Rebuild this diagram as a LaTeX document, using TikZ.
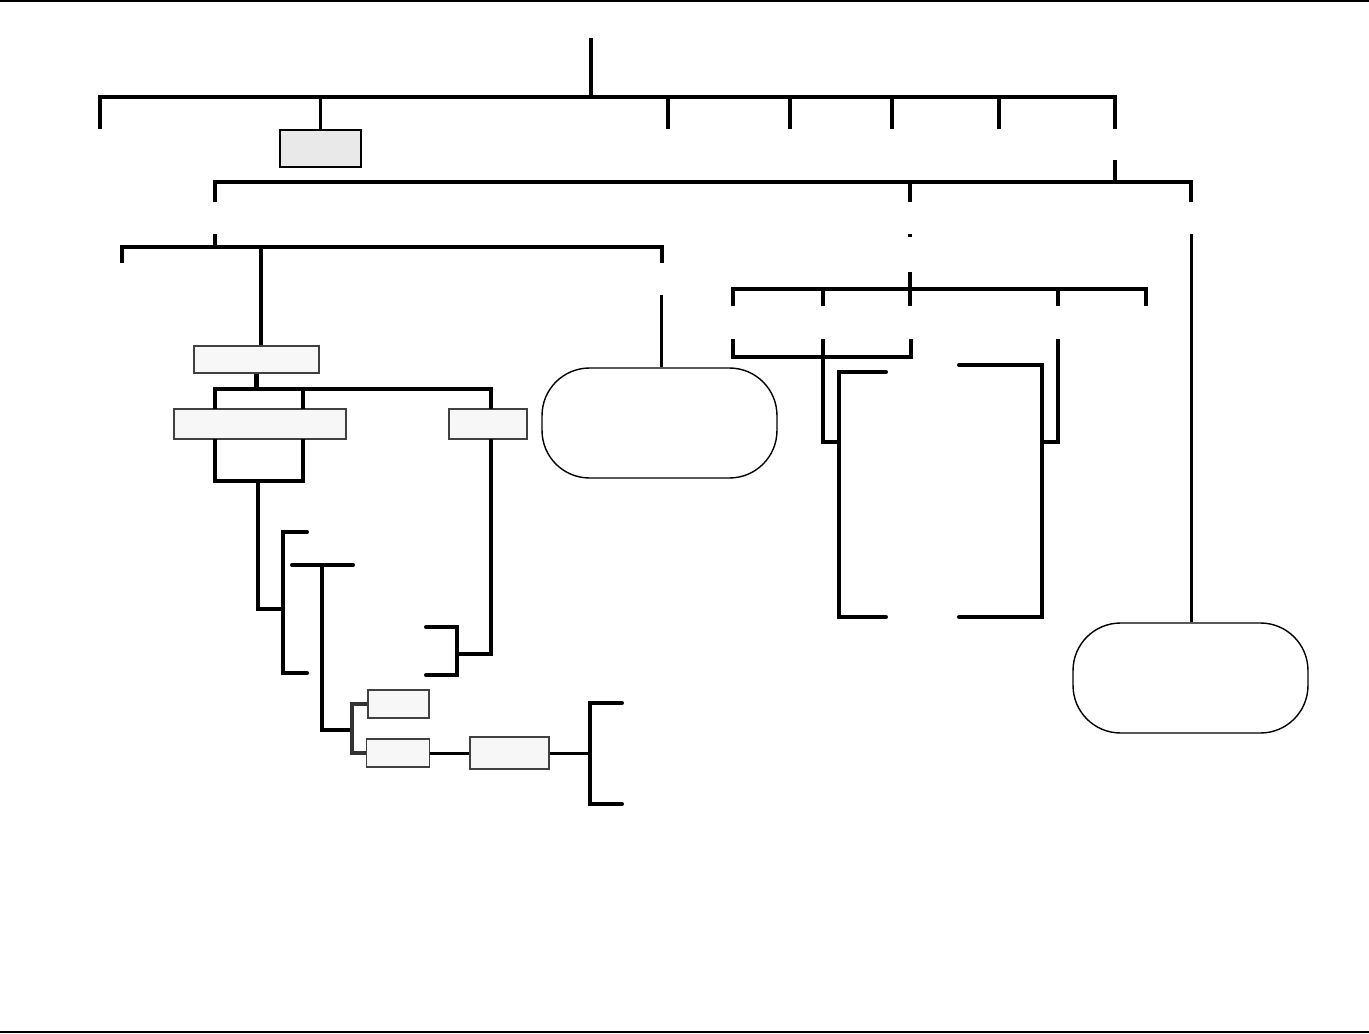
\documentclass[tikz,border=0pt]{standalone}
\usepackage{xcolor}
\usepackage{tikz}
\usetikzlibrary{positioning, calc}
\definecolor{cPale}{RGB}{247,247,247}
\definecolor{cGrey}{RGB}{233,233,233}
\definecolor{cEdge}{RGB}{64,64,64}
\definecolor{cDark}{RGB}{51,51,51}
\tikzset{
	bar/.style     ={line width=2.3pt},
	thinbar/.style ={line width=1.7pt},
	tickbar/.style ={line width=2.3pt, line cap=round},
	rule/.style    ={line width=0.6pt},
	blank/.style   ={rectangle, draw=cEdge, line width=0.6pt, fill=cPale, inner sep=0pt},
	greybox/.style ={rectangle, draw=black, line width=0.7pt, fill=cGrey, inner sep=0pt, minimum width=1.62cm, minimum height=0.74cm},
	pill/.style    ={rectangle, draw=black, line width=0.8pt, rounded corners=0.95cm, minimum width=4.7cm, minimum height=2.2cm, inner sep=0pt},
}

\begin{document}
\begin{tikzpicture}[x=0.02cm, y=-0.02cm]
	\useasboundingbox (0,0) rectangle (1369,1034);
	% frame rules
	\coordinate (fl) at (0,1); \coordinate (fr) at (1369,1);
	\coordinate (gl0) at (0,1032); \coordinate (gr0) at (1369,1032);
	\draw[rule] (fl) -- (fr); \draw[rule] (gl0) -- (gr0);
	% boxes
	\node[greybox] (gb) at (320.5,148.5) {};
	\node[blank, minimum width=2.5cm, minimum height=0.54cm] (b1) at (256.5,359.5) {};
	\node[blank, minimum width=3.44cm, minimum height=0.6cm] (b2) at (260,424) {};
	\node[blank, minimum width=1.56cm, minimum height=0.6cm] (b3) at (488,424) {};
	\node[blank, minimum width=1.22cm, minimum height=0.56cm] (b4) at (398.5,704) {};
	\node[blank, minimum width=1.26cm, minimum height=0.56cm] (b5) at (398,753) {};
	\node[blank, minimum width=1.58cm, minimum height=0.64cm] (b6) at (509.5,753) {};
	\node[pill] (p1) at (659.5,423) {};
	\node[pill] (p2) at (1190.5,678) {};
	% top level
	\coordinate (r0) at (591,38); \coordinate (r1) at (591,97);
	\coordinate (t1) at (100,129); \coordinate (t3) at (668,129); \coordinate (t4) at (790,129);
	\coordinate (t5) at (892,129); \coordinate (t6) at (999,129); \coordinate (t7) at (1115,129);
	\draw[bar] (r0) -- (r1); \draw[bar] (t1) |- (r1) -| (t7);
	\draw[bar] (t3) -- (t3 |- r1); \draw[bar] (t4) -- (t4 |- r1); \draw[bar] (t5) -- (t5 |- r1); \draw[bar] (t6) -- (t6 |- r1);
	\draw[thinbar] (gb.north) -- (gb.north |- r1);
	% second level
	\coordinate (s0) at (1115,160); \coordinate (sj) at (1115,182);
	\coordinate (s1) at (215,202); \coordinate (s2) at (910,202); \coordinate (s3) at (1191,202);
	\draw[bar] (s0) -- (sj); \draw[bar] (s1) |- (sj) -| (s3); \draw[bar] (s2) -- (s2 |- sj);
	% left branch
	\coordinate (u0) at (215,234); \coordinate (uj) at (215,247); \coordinate (u2) at (261,247);
	\coordinate (u1) at (122,263); \coordinate (u3) at (662,263);
	\draw[bar] (u0) -- (uj); \draw[bar] (u1) |- (uj) -| (u3); \draw[bar] (u2) -- (u2 |- b1.north);
	\coordinate (y0) at (661,295); \draw[thinbar] (y0) -- (y0 |- p1.north);
	\coordinate (cj) at (256.5,389); \coordinate (c1) at (215,409); \coordinate (c2) at (303,409); \coordinate (c3) at (491,409);
	\draw[bar] (b1.south) -- (cj); \draw[bar] (c1) |- (cj) -| (c3); \draw[bar] (c2) -- (c2 |- cj);
	\coordinate (e1) at (215,439); \coordinate (e2) at (303,439); \coordinate (ej) at (258,481);
	\draw[bar] (e1) |- (ej) -| (e2);
	\coordinate (fb) at (283,609); \coordinate (fbt) at (307,532); \coordinate (fbb) at (307,673);
	\draw[bar] (ej) |- (fb); \draw[tickbar] (fbt) -| (fb) |- (fbb);
	\coordinate (gl) at (292,565); \coordinate (gr) at (353,565); \coordinate (gj) at (322,565); \coordinate (gk) at (352,730);
	\draw[tickbar] (gl) -- (gr); \draw[bar] (gj) |- (gk);
	\draw[bar, cDark] (b4.west) -| (gk) |- (b5.west);
	\coordinate (hb) at (590,753); \coordinate (hbt) at (622,703); \coordinate (hbb) at (622,804);
	\draw[thinbar] (b5.east) -- (b6.west); \draw[thinbar] (b6.east) -- (hb); \draw[tickbar] (hbt) -| (hb) |- (hbb);
	\coordinate (k0) at (491,439); \coordinate (kb) at (457,654); \coordinate (kbt) at (426,627); \coordinate (kbb) at (426,675);
	\draw[bar] (k0) |- (kb); \draw[tickbar] (kbt) -| (kb) |- (kbb);
	% middle branch
	\coordinate (d0) at (910,234); \coordinate (d1) at (910,237); \draw[bar] (d0) -- (d1);
	\coordinate (v0) at (910,272); \coordinate (vj) at (910,289); \coordinate (v1) at (733,306); \coordinate (v2) at (823,306);
	\coordinate (v3) at (910,306); \coordinate (v4) at (1058,306); \coordinate (v5) at (1146,306);
	\draw[bar] (v0) -- (v3); \draw[bar] (v1) |- (vj) -| (v5); \draw[bar] (v2) -- (v2 |- vj); \draw[bar] (v4) -- (v4 |- vj);
	\coordinate (w1) at (733,339); \coordinate (w2) at (823,339); \coordinate (w3) at (911,339); \coordinate (wj) at (823,357); \coordinate (w5) at (1058,339);
	\draw[bar] (w1) |- (wj) -| (w3);
	\coordinate (lb) at (839,442); \coordinate (lbt) at (886,372); \coordinate (lbb) at (886,617);
	\draw[bar] (w2) |- (lb); \draw[tickbar] (lbt) -| (lb) |- (lbb);
	\coordinate (rb) at (1042,442); \coordinate (rbt) at (959,365); \coordinate (rbb) at (959,617);
	\draw[tickbar] (rbt) -| (rb) |- (rbb); \draw[bar] (w5) |- (rb);
	% right branch
	\coordinate (x0) at (1191,234); \draw[thinbar] (x0) -- (x0 |- p2.north);
\end{tikzpicture}
\end{document}
